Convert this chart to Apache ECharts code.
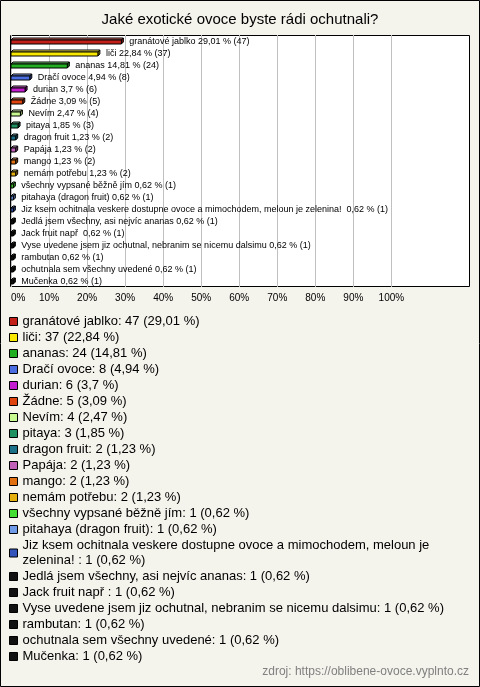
<!DOCTYPE html>
<html>
<head>
<meta charset="utf-8">
<script src="https://cdn.jsdelivr.net/npm/echarts@6/dist/echarts.min.js"></script>
<style>
html,body{margin:0;padding:0;background:#f4f3ec;}
#c{width:480px;height:687px;}
</style>
</head>
<body>
<div id="c"></div>
<script>
const categories = [
  'granátové jablko', 'liči', 'ananas', 'Dračí ovoce', 'durian', 'Žádne', 'Nevím',
  'pitaya', 'dragon fruit', 'Papája', 'mango', 'nemám potřebu',
  'všechny vypsané běžně jím', 'pitahaya (dragon fruit)',
  'Jiz ksem ochitnala veskere dostupne ovoce a mimochodem, meloun je zelenina! ',
  'Jedlá jsem všechny, asi nejvíc ananas', 'Jack fruit např ',
  'Vyse uvedene jsem jiz ochutnal, nebranim se nicemu dalsimu',
  'rambutan', 'ochutnala sem všechny uvedené', 'Mučenka'
];
const counts = [47, 37, 24, 8, 6, 5, 4, 3, 2, 2, 2, 2, 1, 1, 1, 1, 1, 1, 1, 1, 1];
const percents = [29.01, 22.84, 14.81, 4.94, 3.7, 3.09, 2.47, 1.85, 1.23, 1.23, 1.23, 1.23,
  0.62, 0.62, 0.62, 0.62, 0.62, 0.62, 0.62, 0.62, 0.62];
const colors = [
  '#c4201a', '#f8e800', '#22b022', '#4a6ee0', '#c41cd0', '#e0440e', '#c8f890',
  '#1f9060', '#1c7088', '#c060b8', '#e07010', '#e4b010', '#44dd33', '#6f9ae8',
  '#3355bb', '#111111', '#111111', '#111111', '#111111', '#111111', '#111111'
];
const xTicks = { min: 0, max: 100, step: 10 };

const FONT = '"Liberation Sans", Arial, sans-serif';
function fmt(v) { return String(v).replace('.', ','); }
function shade(hex, f) {
  const n = parseInt(hex.slice(1), 16);
  let r = (n >> 16) & 255, g = (n >> 8) & 255, b = n & 255;
  if (f >= 0) { r = r + (255 - r) * f; g = g + (255 - g) * f; b = b + (255 - b) * f; }
  else { r = r * (1 + f); g = g * (1 + f); b = b * (1 + f); }
  return 'rgb(' + Math.round(r) + ',' + Math.round(g) + ',' + Math.round(b) + ')';
}

function renderItem(params, api) {
  const val = api.value(0);
  const idx = api.value(1);
  const p0 = api.coord([0, idx]);
  const p1 = api.coord([val, idx]);
  const x0 = p0[0], x1 = p1[0], yc = p0[1];
  const d = 2;
  const top = yc - 1, bot = yc + 3;
  const col = colors[idx];
  const label = categories[idx] + ' ' + fmt(percents[idx]) + ' % (' + counts[idx] + ')';
  return {
    type: 'group',
    children: [
      { type: 'polygon', shape: { points: [[x0, top], [x0 + d, top - d], [x1 + d, top - d], [x1, top]] },
        style: { fill: shade(col, 0.35), stroke: '#000', lineWidth: 1 } },
      { type: 'polygon', shape: { points: [[x1, top], [x1 + d, top - d], [x1 + d, bot - d], [x1, bot]] },
        style: { fill: shade(col, -0.35), stroke: '#000', lineWidth: 1 } },
      { type: 'rect', shape: { x: x0, y: top, width: x1 - x0, height: bot - top },
        style: { fill: col, stroke: '#000', lineWidth: 1 } },
      { type: 'text', x: x1 + d + 6, y: yc + 1,
        style: { text: label, fill: '#000', font: '9px ' + FONT, verticalAlign: 'middle', align: 'left' } }
    ]
  };
}

const series = categories.map((name, i) => ({
  type: 'custom',
  name: name,
  renderItem: renderItem,
  itemStyle: { color: colors[i] },
  encode: { x: 0, y: 1 },
  data: [[percents[i], i]],
  clip: false,
  z: 5
}));

const chart = echarts.init(document.getElementById('c'), null, { renderer: 'canvas' });
chart.setOption({
  backgroundColor: '#f4f3ec',
  animation: false,
  textStyle: { fontFamily: FONT },
  title: {
    text: 'Jaké exotické ovoce byste rádi ochutnali?',
    left: 'center', top: 7,
    textStyle: { fontSize: 15, fontWeight: 'normal', color: '#000', fontFamily: FONT }
  },
  graphic: [
    { type: 'rect', z: -100, shape: { x: 0.5, y: 0.5, width: 479, height: 686 },
      style: { fill: '#f4f3ec', stroke: '#000', lineWidth: 1 } },
    { type: 'rect', z: -90, shape: { x: 10.5, y: 35.5, width: 459, height: 251 },
      style: { fill: '#fff', stroke: '#000', lineWidth: 1 } },
    { type: 'text', right: 11, top: 666,
      style: { text: 'zdroj: https://oblibene-ovoce.vyplnto.cz', fill: '#808080', font: '12px ' + FONT } }
  ],
  grid: { left: 11, top: 35, width: 380.4, height: 252, containLabel: false },
  xAxis: {
    type: 'value', min: xTicks.min, max: xTicks.max, interval: xTicks.step,
    axisLine: { show: false }, axisTick: { show: false },
    splitLine: { show: true, lineStyle: { color: '#c0c0c0', width: 1 } },
    axisLabel: { formatter: '{value}%', fontSize: 10, color: '#000', margin: 6, alignMinLabel: 'left', fontFamily: FONT }
  },
  yAxis: {
    type: 'category', inverse: true, data: categories,
    axisLine: { show: false }, axisTick: { show: false }, axisLabel: { show: false },
    splitLine: { show: false }
  },
  legend: {
    orient: 'vertical', left: 9, top: 314, padding: 0,
    itemWidth: 8, itemHeight: 8, itemGap: 1,
    icon: 'rect', selectedMode: false,
    itemStyle: { borderColor: '#000', borderWidth: 1 },
    data: categories,
    formatter: function (name) {
      const i = categories.indexOf(name);
      return name + ': ' + counts[i] + ' (' + fmt(percents[i]) + ' %)';
    },
    textStyle: { fontSize: 13, lineHeight: 15, color: '#000', width: 452, overflow: 'break', fontFamily: FONT }
  },
  series: series
});
</script>
</body>
</html>
